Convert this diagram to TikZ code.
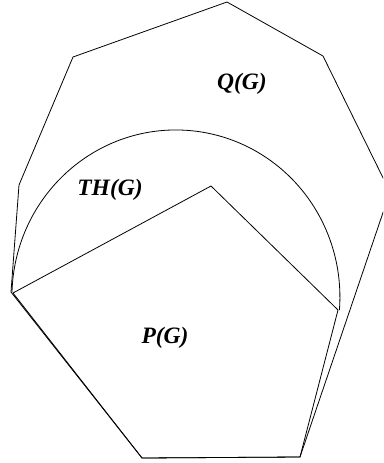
\documentclass[tikz,border=0pt]{standalone}
\usepackage{fontspec}
\setmainfont{Liberation Serif}
\begin{document}
\begin{tikzpicture}[x=1pt,y=-1pt,
  edge/.style={draw=black, line width=0.8pt, line join=miter},
  lbl/.style={font=\fontsize{23.5}{25}\selectfont\bfseries\itshape, inner sep=0pt}]
\useasboundingbox (0,0) rectangle (383,463);
% Q(G)
\begin{scope}
\clip (0,0) rectangle (383,463);
\draw[edge] (11,292) -- (19,185) -- (73,57) -- (227,2) -- (323,56) -- (390,192) -- (300,457) -- (142,458) -- cycle;
\end{scope}
% P(G)
\draw[edge] (13,293) -- (211,186) -- (338,310) -- (300,457) -- (142,458) -- cycle;
% TH(G)
\draw[edge] (12,292) arc[start angle=178.3, end angle=-4.5, x radius=164pt, y radius=167pt];
\node[lbl] (q) at (242,84) {Q(G)};
\node[lbl] (th) at (110,190) {TH(G)};
\node[lbl] (p) at (165,338) {P(G)};
\end{tikzpicture}
\end{document}
